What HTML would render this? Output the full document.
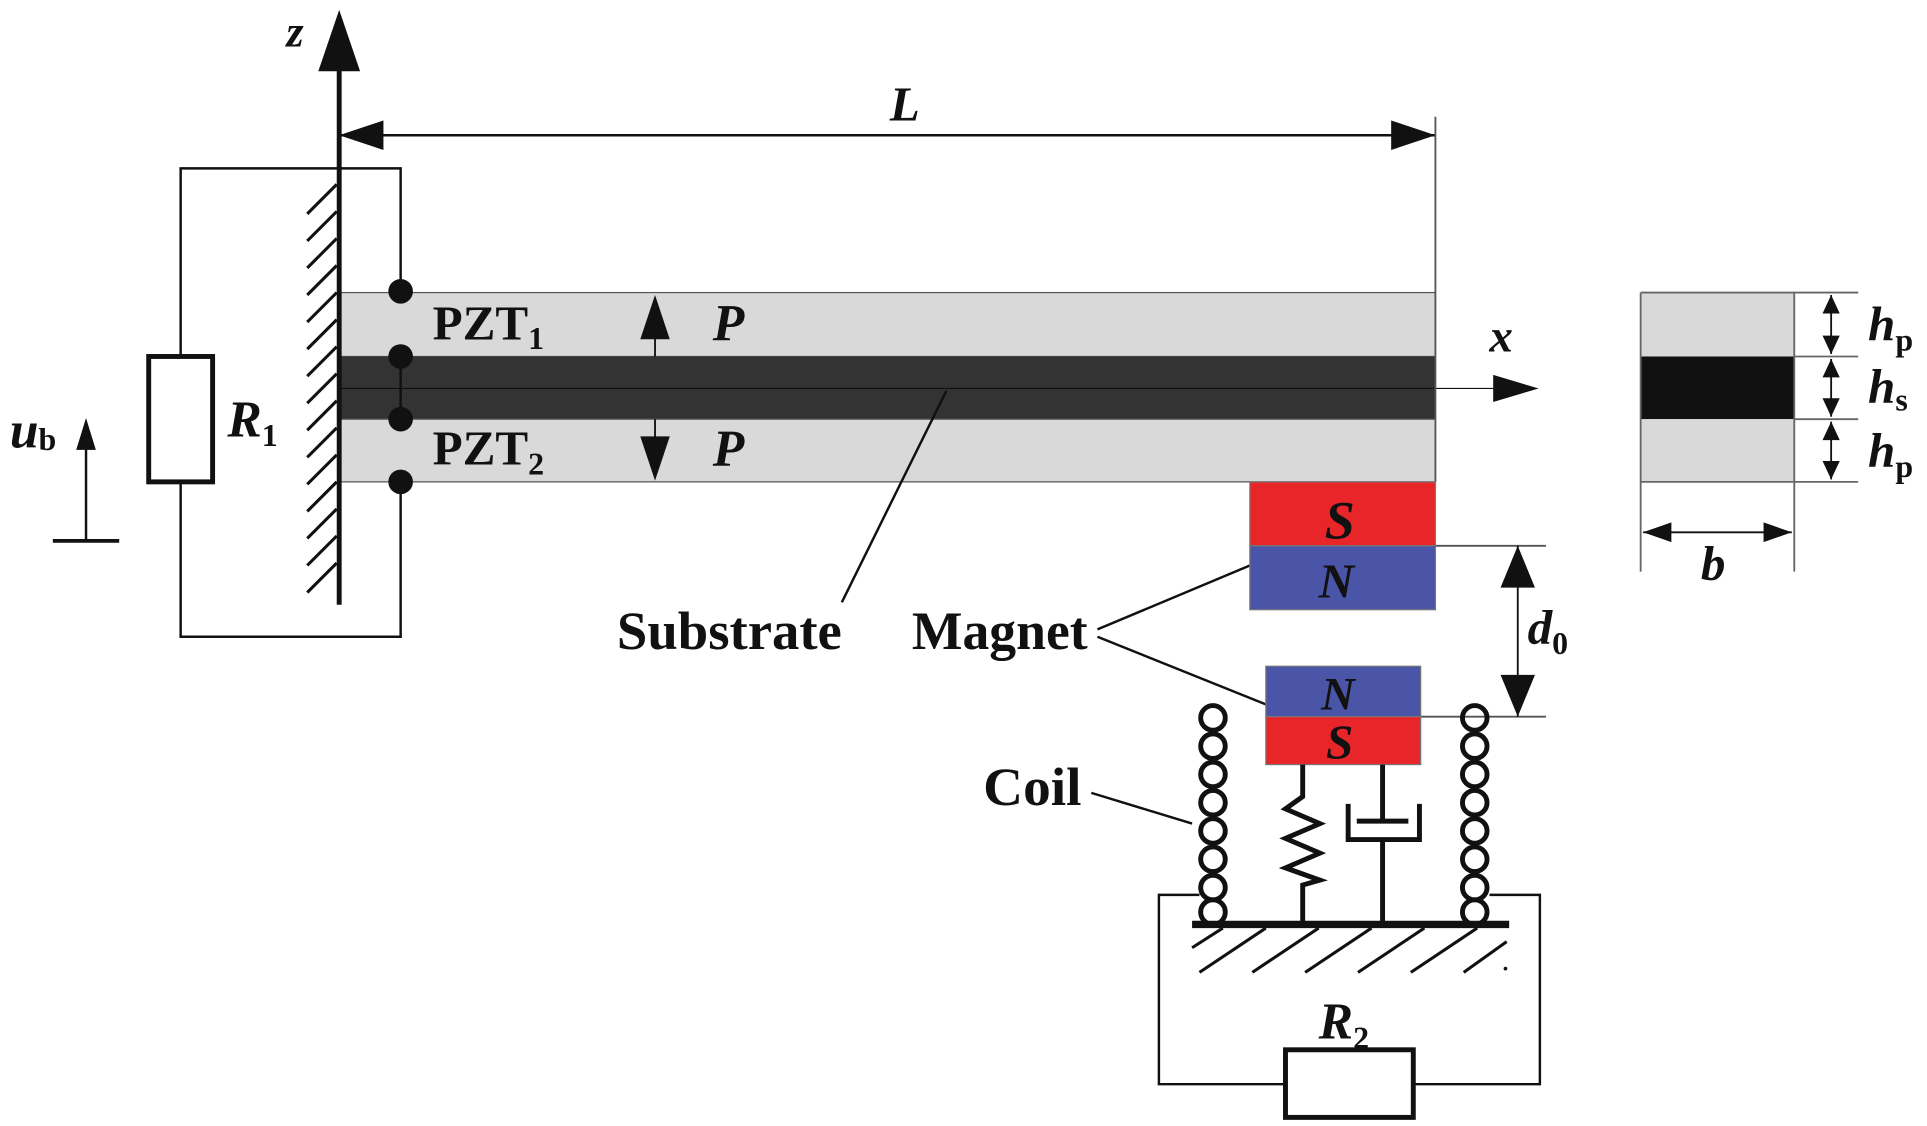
<!DOCTYPE html>
<html><head><meta charset="utf-8"><style>html,body{margin:0;padding:0;background:#fff}svg{display:block}text{font-family:"Liberation Serif",serif;font-weight:bold;fill:#111}</style></head><body>
<svg width="1927" height="1126" viewBox="0 0 1568 916" preserveAspectRatio="none" xmlns="http://www.w3.org/2000/svg">
<!-- beam -->
<rect x="276" y="238" width="892" height="52" fill="#d9d9d9" stroke="#555" stroke-width="1"/>
<rect x="276" y="290" width="892" height="51" fill="#333"/>
<rect x="276" y="341" width="892" height="51" fill="#d9d9d9" stroke="#555" stroke-width="1"/>
<line x1="276" y1="316" x2="1218" y2="316" stroke="#111" stroke-width="1"/>
<path d="M1215,305 L1252,316 L1215,327z" fill="#111"/>
<text x="1212" y="286" font-size="38" font-style="italic">x</text>
<!-- wall & z axis -->
<line x1="276" y1="50" x2="276" y2="492" stroke="#111" stroke-width="4"/>
<path d="M259,58 L276,8 L293,58z" fill="#111"/>
<text x="233" y="38" font-size="36" font-style="italic">z</text>
<g stroke="#111" stroke-width="2.5">
<path d="M274,150 L250,174 M274,172 L250,196 M274,194 L250,218 M274,216 L250,240 M274,238 L250,262 M274,260 L250,284 M274,282 L250,306 M274,304 L250,328 M274,326 L250,350 M274,348 L250,372 M274,370 L250,394 M274,392 L250,416 M274,414 L250,438 M274,436 L250,460 M274,458 L250,482"/>
</g>
<!-- L dimension -->
<line x1="276" y1="110" x2="1168" y2="110" stroke="#111" stroke-width="2"/>
<path d="M276,110 L312,98 L312,122z M1168,110 L1132,98 L1132,122z" fill="#111"/>
<line x1="1168" y1="95" x2="1168" y2="392" stroke="#555" stroke-width="1.5"/>
<text x="724" y="98" font-size="40" font-style="italic">L</text>
<!-- R1 circuit -->
<path d="M326,237 L326,137 L147,137 L147,290 M147,392 L147,518 L326,518 L326,392 M326,290 L326,341" fill="none" stroke="#111" stroke-width="2"/>
<rect x="121" y="290" width="52" height="102" fill="#fff" stroke="#111" stroke-width="4"/>
<text x="185" y="355" font-size="42" font-style="italic">R<tspan font-size="26" font-style="normal" dy="8">1</tspan></text>
<g fill="#111"><circle cx="326" cy="237" r="10"/><circle cx="326" cy="290" r="10"/><circle cx="326" cy="341" r="10"/><circle cx="326" cy="392" r="10"/></g>
<text x="352" y="276" font-size="40">PZT<tspan font-size="26" dy="8">1</tspan></text>
<text x="352" y="378" font-size="40">PZT<tspan font-size="26" dy="8">2</tspan></text>
<line x1="533" y1="262" x2="533" y2="290" stroke="#111" stroke-width="1.5"/>
<path d="M521,276 L533,240 L545,276z" fill="#111"/>
<line x1="533" y1="341" x2="533" y2="360" stroke="#111" stroke-width="1.5"/>
<path d="M521,355 L533,391 L545,355z" fill="#111"/>
<text x="580" y="277" font-size="42" font-style="italic">P</text>
<text x="580" y="379" font-size="42" font-style="italic">P</text>
<!-- u_b -->
<text x="8" y="364" font-size="42" font-style="italic">u<tspan font-size="26" font-style="normal" dy="2">b</tspan></text>
<line x1="70" y1="360" x2="70" y2="440" stroke="#111" stroke-width="2"/>
<path d="M62,366 L70,340 L78,366z" fill="#111"/>
<line x1="43" y1="440" x2="97" y2="440" stroke="#111" stroke-width="3"/>
<!-- labels -->
<line x1="685" y1="490" x2="770" y2="318" stroke="#111" stroke-width="2"/>
<text x="502" y="528" font-size="44" textLength="183" lengthAdjust="spacingAndGlyphs">Substrate</text>
<text x="742" y="528" font-size="44" textLength="143" lengthAdjust="spacingAndGlyphs">Magnet</text>
<line x1="893" y1="512" x2="1017" y2="460" stroke="#111" stroke-width="2"/>
<line x1="893" y1="518" x2="1030" y2="573" stroke="#111" stroke-width="2"/>
<!-- top magnet -->
<rect x="1017" y="392" width="151" height="52" fill="#e8262a" stroke="#777" stroke-width="1"/>
<rect x="1017" y="444" width="151" height="52" fill="#4a55a8" stroke="#777" stroke-width="1"/>
<text x="1078" y="438" font-size="44" font-style="italic">S</text>
<text x="1073" y="486" font-size="40" font-style="italic" font-weight="normal">N</text>
<!-- d0 -->
<line x1="1168" y1="444" x2="1258" y2="444" stroke="#555" stroke-width="1.5"/>
<line x1="1156" y1="583" x2="1258" y2="583" stroke="#555" stroke-width="1.5"/>
<line x1="1235" y1="444" x2="1235" y2="583" stroke="#111" stroke-width="1.5"/>
<path d="M1221,478 L1235,444 L1249,478z M1221,549 L1235,583 L1249,549z" fill="#111"/>
<text x="1243" y="524" font-size="40" font-style="italic">d<tspan font-size="26" font-style="normal" dy="8">0</tspan></text>
<!-- bottom magnet -->
<rect x="1030" y="542" width="126" height="41" fill="#4a55a8" stroke="#777" stroke-width="1"/>
<rect x="1030" y="583" width="126" height="39" fill="#e8262a" stroke="#777" stroke-width="1"/>
<text x="1075" y="577" font-size="38" font-style="italic" font-weight="normal">N</text>
<text x="1079" y="617" font-size="40" font-style="italic">S</text>
<!-- spring & damper -->
<path d="M1060,622 L1060,648 L1046,658 L1074,670 L1046,682 L1074,694 L1046,706 L1074,716 L1060,720 L1060,752" fill="none" stroke="#111" stroke-width="4"/>
<path d="M1125,622 L1125,668 M1104,668 L1146,668 M1097,654 L1097,683 L1155,683 L1155,654 M1125,683 L1125,752" fill="none" stroke="#111" stroke-width="4"/>
<!-- coils -->
<g fill="none" stroke="#111" stroke-width="4">
<circle cx="987" cy="584" r="10"/><circle cx="987" cy="607" r="10"/><circle cx="987" cy="630" r="10"/><circle cx="987" cy="653" r="10"/><circle cx="987" cy="676" r="10"/><circle cx="987" cy="699" r="10"/><circle cx="987" cy="722" r="10"/><circle cx="987" cy="742" r="10"/>
<circle cx="1200" cy="584" r="10"/><circle cx="1200" cy="607" r="10"/><circle cx="1200" cy="630" r="10"/><circle cx="1200" cy="653" r="10"/><circle cx="1200" cy="676" r="10"/><circle cx="1200" cy="699" r="10"/><circle cx="1200" cy="722" r="10"/><circle cx="1200" cy="742" r="10"/>
</g>
<text x="800" y="655" font-size="44" textLength="80" lengthAdjust="spacingAndGlyphs">Coil</text>
<line x1="888" y1="645" x2="970" y2="670" stroke="#111" stroke-width="2"/>
<!-- base -->
<line x1="970" y1="752" x2="1228" y2="752" stroke="#111" stroke-width="6"/>
<g stroke="#111" stroke-width="2.5">
<path d="M995,755 L970,771 M1030,755 L976,791 M1073,755 L1019,791 M1116,755 L1062,791 M1159,755 L1105,791 M1202,755 L1148,791 M1226,766 L1191,791"/>
</g>
<circle cx="1225" cy="788" r="1.5" fill="#111"/>
<!-- R2 circuit -->
<path d="M976,728 L943,728 L943,882 L1046,882 M1150,882 L1253,882 L1253,728 L1212,728" fill="none" stroke="#111" stroke-width="2"/>
<rect x="1046" y="854" width="104" height="55" fill="#fff" stroke="#111" stroke-width="4"/>
<text x="1073" y="845" font-size="42" font-style="italic">R<tspan font-size="26" font-style="normal" dy="8">2</tspan></text>
<!-- cross-section -->
<rect x="1335" y="238" width="125" height="52" fill="#d9d9d9"/>
<rect x="1335" y="290" width="125" height="51" fill="#111"/>
<rect x="1335" y="341" width="125" height="51" fill="#d9d9d9"/>
<g stroke="#666" stroke-width="1.5">
<line x1="1335" y1="238" x2="1335" y2="465"/><line x1="1460" y1="238" x2="1460" y2="465"/>
<line x1="1335" y1="238" x2="1512" y2="238"/><line x1="1460" y1="290" x2="1512" y2="290"/><line x1="1460" y1="341" x2="1512" y2="341"/><line x1="1335" y1="392" x2="1512" y2="392"/>
</g>
<g stroke="#111" stroke-width="1.5">
<line x1="1490" y1="240" x2="1490" y2="288"/><line x1="1490" y1="292" x2="1490" y2="339"/><line x1="1490" y1="343" x2="1490" y2="390"/>
<line x1="1337" y1="433" x2="1458" y2="433"/>
</g>
<path d="M1483,255 L1490,240 L1497,255z M1483,273 L1490,288 L1497,273z M1483,307 L1490,292 L1497,307z M1483,324 L1490,339 L1497,324z M1483,358 L1490,343 L1497,358z M1483,375 L1490,390 L1497,375z M1337,433 L1360,425 L1360,441z M1458,433 L1435,425 L1435,441z" fill="#111"/>
<text x="1384" y="472" font-size="40" font-style="italic">b</text>
<text x="1520" y="277" font-size="40" font-style="italic">h<tspan font-size="26" font-style="normal" dy="8">p</tspan></text>
<text x="1520" y="328" font-size="40" font-style="italic">h<tspan font-size="26" font-style="normal" dy="6">s</tspan></text>
<text x="1520" y="380" font-size="40" font-style="italic">h<tspan font-size="26" font-style="normal" dy="8">p</tspan></text>
</svg>
</body></html>
